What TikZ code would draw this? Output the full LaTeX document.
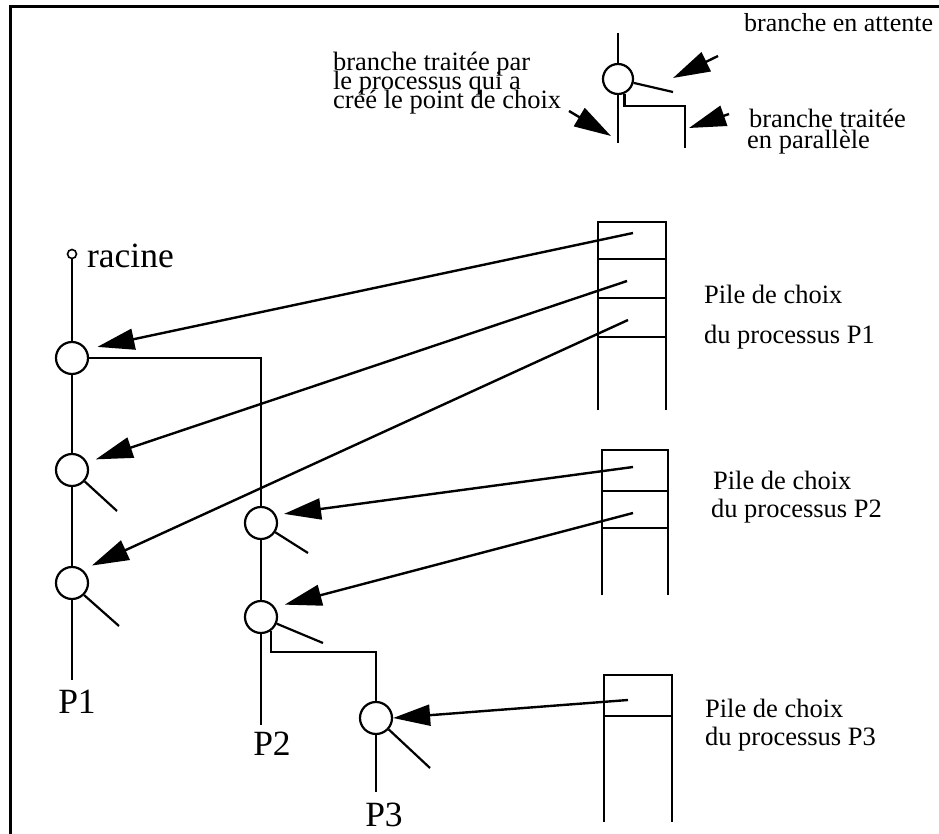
\documentclass[tikz,border=0pt]{standalone}
\usepackage{fontspec}
\setmainfont{Liberation Serif}
\usetikzlibrary{arrows.meta}
\begin{document}
\begin{tikzpicture}[x=1pt,y=-1pt,line width=2.2pt,
  cnode/.style={circle,draw,minimum size=32pt,inner sep=0pt,line width=2.2pt},
  arr/.style={-{Triangle[length=37pt,width=21pt]},line width=2.4pt},
  lbl/.style={font=\fontsize{26.5}{30}\selectfont,anchor=base west,inner sep=0pt},
  big/.style={font=\fontsize{35.5}{40}\selectfont,inner sep=0pt,anchor=base}]
\useasboundingbox (0,0) rectangle (939,834);
% frame
\draw[line width=3pt] (10,834) -- (10,7) -- (939,7);

% ---------- legend ----------
\node[cnode,minimum size=30pt] (lg) at (618,79) {};
\coordinate (lgtop) at (618,33);
\coordinate (lgbot) at (618,143);
\coordinate (lgwait) at (673,92);
\coordinate (lgpar) at (685,148);
\draw (lgtop) -- (lg);
\draw (lg) -- (lgbot);
\draw (lg.-14) -- (lgwait);
\draw (lg.-66) -- ++(0,12) -| (lgpar);
\coordinate (la1) at (718,56);  \coordinate (la2) at (673,78);
\coordinate (lb1) at (729,114); \coordinate (lb2) at (689,128);
\coordinate (lc1) at (569,111); \coordinate (lc2) at (611,136);
\draw[arr] (la1) -- (la2);
\draw[arr] (lb1) -- (lb2);
\draw[arr] (lc1) -- (lc2);
\node[lbl,font=\fontsize{26}{30}\selectfont] (t1) at (743,32) {branche en attente};
\node[lbl] (t2) at (748,128) {branche traitée};
\node[lbl] (t3) at (746,149) {en parallèle};
\node[lbl] (t4) at (332,71) {branche traitée par};
\node[lbl] (t5) at (332,90) {le processus qui a};
\node[lbl] (t6) at (332,109) {créé le point de choix};

% ---------- tree ----------
\node[circle,draw,minimum size=9pt,inner sep=0pt,line width=1.6pt] (root) at (72,254) {};
\node[big,anchor=base west] (racine) at (86,267) {racine};
\node[cnode] (n1) at (72,358) {};
\node[cnode] (n2) at (72,470) {};
\node[cnode] (n3) at (72,583) {};
\node[big] (P1) at (77,713) {P1};
\draw (root) -- (n1);
\draw (n1) -- (n2);
\draw (n2) -- (n3);
\draw (n3.south) -- ([yshift=8pt]n3.south |- P1.north);
\coordinate (b2) at (117,511);
\coordinate (b3) at (119,626);
\draw (n2.-42) -- (b2);
\draw (n3.-45) -- (b3);

\node[cnode] (p2a) at (261,523) {};
\node[cnode] (p2b) at (261,617) {};
\node[cnode] (p3) at (376,718) {};
\node[big] (P2) at (272,755) {P2};
\node[big] (P3) at (384,826) {P3};
\draw (n1.east) -| (p2a.north);
\draw (p2a) -- (p2b);
\coordinate (ba) at (308,553);
\coordinate (bb) at (323,643);
\coordinate (bc) at (430,768);
\draw (p2a.-33) -- (ba);
\draw (p2b.-23) -- (bb);
\draw (p3.-42) -- (bc);
\coordinate (j2) at (270,652);
\draw (p2b.-55) -- (p2b.-55 |- j2) -| (p3.north);
\draw (p2b.south) -- ([yshift=5pt]p2b.south |- P2.north);
\draw (p3.south) -- ([yshift=9pt]p3.south |- P3.north);

% ---------- stacks ----------
\draw (598,410) -- (598,222) -- (666,222) -- (666,410);
\draw (598,259) -- (666,259);
\draw (598,298) -- (666,298);
\draw (598,337) -- (666,337);
\draw (602,595) -- (602,450) -- (668,450) -- (668,595);
\draw (602,491) -- (668,491);
\draw (602,528) -- (668,528);
\draw (604,822) -- (604,675) -- (672,675) -- (672,822);
\draw (604,716) -- (672,716);

\node[lbl] (s1t1) at (703,303) {Pile de choix};
\node[lbl] (s1t2) at (703,343) {du processus P1};
\node[lbl] (s2t1) at (712,489) {Pile de choix};
\node[lbl] (s2t2) at (710,517) {du processus P2};
\node[lbl] (s3t1) at (704,717) {Pile de choix};
\node[lbl] (s3t2) at (704,745) {du processus P3};

% ---------- arrows from stacks ----------
\coordinate (s1a) at (633,233);
\coordinate (s1b) at (627,281);
\coordinate (s1c) at (628,320);
\coordinate (s2a) at (633,467);
\coordinate (s2b) at (633,513);
\coordinate (s3a) at (628,700);
\draw[arr,shorten >=11pt] (s1a) -- (n1.31);
\draw[arr,shorten >=9pt] (s1b) -- (n2.27);
\draw[arr,shorten >=10pt] (s1c) -- (n3.51);
\draw[arr,shorten >=8pt] (s2a) -- (p2a.28);
\draw[arr,shorten >=10pt] (s2b) -- (p2b.35);
\draw[arr] (s3a) -- (p3.0);
\end{tikzpicture}
\end{document}
